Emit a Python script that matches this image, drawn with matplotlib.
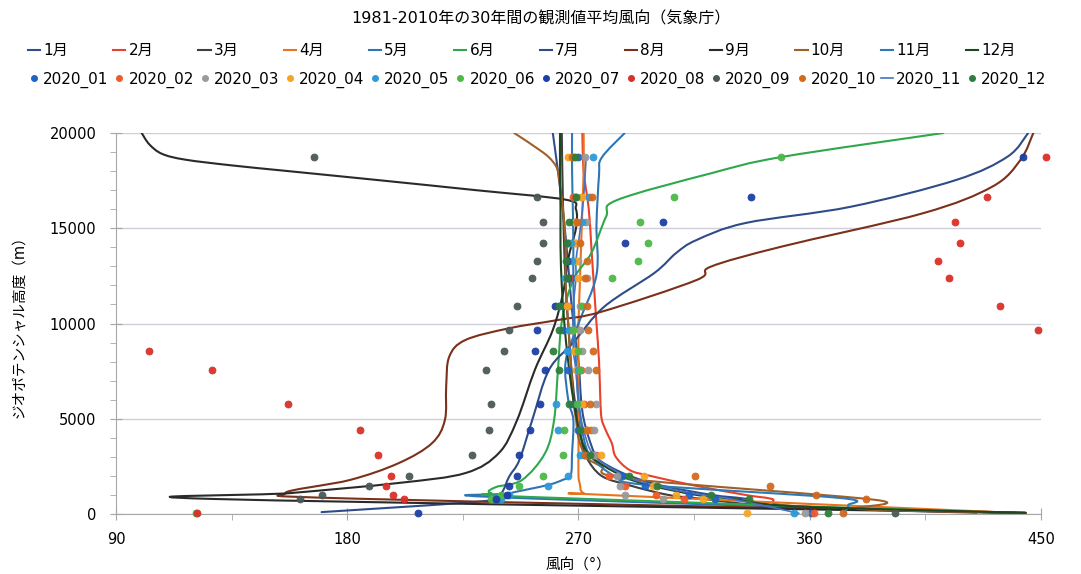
import numpy as np
import matplotlib
matplotlib.use("Agg")
import matplotlib.pyplot as plt
from matplotlib.lines import Line2D
from matplotlib.path import Path
from matplotlib.patches import PathPatch
from matplotlib.ticker import MultipleLocator

plt.rcParams['font.family'] = ['DejaVu Sans', 'Noto Sans CJK JP']

# ---- 1981-2010 monthly mean wind direction (deg) vs geopotential height (m)
jan_h = [60, 400, 800, 1000, 1500, 2000, 2500, 3000, 4000, 5000, 6000, 8000, 10000, 13000, 15200, 18000, 20000]
jan_d = [444, 352, 335, 322, 302, 290, 282, 277, 274, 272, 271, 270, 268, 266, 264.5, 262, 260]
feb_h = [60, 400, 800, 1000, 1500, 2000, 2300, 3000, 3700, 4400, 5000, 6000, 8000, 10000, 12000, 14000, 16000, 18000, 20000]
feb_d = [444, 356, 345, 335, 315, 298, 290, 284.5, 283, 280.6, 279, 278.5, 278, 277, 276, 275, 274, 272, 271.5]
mar_h = [60, 400, 800, 1000, 1500, 2000, 3000, 4000, 5000, 6000, 8000, 10000, 12000, 16000, 20000]
mar_d = [440, 350, 318, 305, 290, 279, 273, 271, 270, 268.5, 267, 266, 265, 264, 263.5]
apr_h = [60, 1000, 1100, 1600, 2000, 3000, 4000, 6000, 8000, 10000, 12000, 14000, 16000, 18000, 20000]
apr_d = [440, 281, 272, 270.5, 270, 270, 270, 270, 270, 270, 270.5, 271, 271.5, 272, 272]
may_h = [60, 880, 1085, 1520, 1800, 2050, 3200, 4935, 6000, 8000, 10000, 12550, 15200, 17800, 18700, 20000]
may_d = [425, 239, 243, 258, 264, 267, 267.5, 268, 266, 265, 270, 277, 277, 278, 279, 288]
jun_h = [60, 890, 1100, 1420, 1785, 3200, 4935, 7560, 10180, 12300, 13700, 15600, 16480, 17900, 18740, 20000]
jun_d = [436, 252, 236, 238, 248, 257, 260.5, 262, 263.6, 268, 275, 280.7, 285, 322, 349, 412]
jul_h = [100, 700, 1100, 1960, 2835, 4935, 7560, 9000, 10880, 12650, 13700, 14385, 15275, 16130, 17535, 18760, 20000]
jul_d = [170, 235, 240, 243, 247, 252, 258.5, 268, 280, 299.5, 308, 316, 335, 376, 417, 437, 445]
aug_h = [60, 800, 1100, 1785, 2670, 3720, 4935, 6685, 8260, 9135, 9750, 10185, 10620, 12285, 12985, 14035, 15785, 17180, 18585, 20000]
aug_d = [440, 185, 156, 181, 200, 213, 218, 218.5, 219.7, 226, 243, 262, 279, 316, 321.5, 349, 404, 431, 442, 447]
sep_h = [60, 790, 1100, 1630, 2150, 3200, 4900, 7560, 9660, 11600, 13400, 15000, 16000, 16500, 17000, 17500,
         18000, 18300, 18600, 18900, 19400, 20000]
sep_d = [444, 128, 158, 200, 226, 239, 246, 253, 260, 264, 266, 269, 269, 265, 230, 194,
         157, 135, 117, 108, 103, 100]
oct_h = [60, 260, 735, 1840, 2500, 3000, 4000, 5000, 6000, 8000, 10000, 12000, 14000, 16000, 17000, 18000, 18500, 19000, 20000]
oct_d = [444, 380, 386, 290, 279, 273, 270, 269, 268, 267, 266, 265, 265, 264, 263, 262, 260, 256, 245]
nov_h = [60, 170, 470, 840, 1520, 2000, 3000, 4000, 6000, 8000, 10000, 12000, 14000, 16000, 18000, 20000]
nov_d = [374, 374, 375, 372, 297, 284, 275, 272, 270, 269, 268.5, 268, 268, 267.8, 267.5, 267.5]
dec_h = [60, 400, 800, 1000, 1500, 2000, 3000, 4000, 6000, 8000, 10000, 12000, 14000, 16000, 18000, 20000]
dec_d = [444, 355, 330, 316, 298, 287, 275, 271, 268, 266, 264.5, 263.5, 263, 263, 262.8, 262.8]

month_labels = ['1月', '2月', '3月', '4月', '5月', '6月', '7月', '8月', '9月', '10月', '11月', '12月']
month_colors = ['#2F4F8F', '#E8412C', '#3F3F3F', '#E8741F', '#2E75B6', '#2EA84A',
                '#2E4C87', '#7A3019', '#2A2A2A', '#A0602A', '#2E7AB5', '#1E4620']

# ---- 2020 observations on pressure-level heights (m)
lv = [30, 780, 1000, 1480, 2000, 3100, 4420, 5800, 7550, 8550, 9650, 10920, 12400, 13300, 14250, 15350, 16650, 18750]
d2020_01 = [360.5, 323, 313, 296, 287, 272, 270, 268, 266, 266, 264, 264, 267, 266, 266, 268, 268.5, 270]
d2020_02 = [361.7, 311, 300, 288, 282, 277, 275, 272, 271, 269, 267, 266, 266.3, 268, 267.5, 269, 267.8, 268]
d2020_03 = [358, 303, 288, 286, 285, 276, 276, 276.7, 273.8, 271.5, 270.4, 270.5, 273.4, 270, 269, 272.8, 271, 272.7]
d2020_04 = [335.5, 318.5, 308, 299, 295.5, 278.6, 273.4, 271.5, 269, 268.2, 267.8, 265.7, 270, 269, 268.6, 268.6, 271.4, 266]
d2020_05 = [353.7, 240, 243, 258, 266, 270.6, 262.1, 261.1, 270, 265.7, 266.3, 262.4, 264.8, 267.3, 267, 271.5, 274, 275.8]
d2020_06 = [121, 236, 240, 247, 256, 264, 264.4, 269.5, 270.7, 270, 268, 271.4, 283, 293, 297, 294, 307, 349]
d2020_07 = [207.7, 238, 242, 243, 246, 247, 251, 255, 257, 253, 254, 261, 266, 265.6, 288, 303, 337, 443]
d2020_08 = [121.5, 202, 198, 195, 197, 192, 185, 156.8, 127.3, 103, 449, 434, 414, 409.8, 418.5, 416.6, 429, 452]
d2020_09 = [393, 161.5, 170, 188.5, 204, 228.5, 235, 236, 234, 241, 243, 246, 252, 254, 256, 256, 254, 167]
d2020_10 = [373, 382, 362.5, 344.5, 315.5, 272.5, 273.4, 274.5, 276.7, 275.6, 273.8, 273.4, 272.5, 273.4, 270.6, 269.5, 275.4, 267.5]
d2020_11 = [356, 330, 318, 300, 288, 276, 272, 270, 269, 268, 268, 268, 269, 269, 270, 271, 272, 273]
d2020_12 = [367, 336.5, 321.5, 300.5, 289.6, 274.5, 270.6, 266.3, 262.4, 260.2, 262.4, 262.4, 265.4, 265.3, 265.7, 266.3, 269, 268.5]

obs_labels = ['2020_01', '2020_02', '2020_03', '2020_04', '2020_05', '2020_06',
              '2020_07', '2020_08', '2020_09', '2020_10', '2020_11', '2020_12']
obs_colors = ['#1F63C6', '#EE5A2C', '#9A9A9A', '#F5A524', '#2C9BDA', '#4DB848',
              '#1C3FA6', '#D93028', '#4B5857', '#D2691E', '#4472C4', '#2F7D3B']

clim = [(jan_d, jan_h), (feb_d, feb_h), (mar_d, mar_h), (apr_d, apr_h), (may_d, may_h), (jun_d, jun_h),
        (jul_d, jul_h), (aug_d, aug_h), (sep_d, sep_h), (oct_d, oct_h), (nov_d, nov_h), (dec_d, dec_h)]
obs = [d2020_01, d2020_02, d2020_03, d2020_04, d2020_05, d2020_06,
       d2020_07, d2020_08, d2020_09, d2020_10, d2020_11, d2020_12]


def smooth_line(ax, xs, ys, **kw):
    # excel-like smoothed line: bezier segments through every point (catmull-rom tangents)
    p = np.column_stack([xs, ys]).astype(float)
    n = len(p)
    verts = [p[0]]
    codes = [Path.MOVETO]
    for i in range(n - 1):
        p0 = p[i - 1] if i > 0 else p[i]
        p3 = p[i + 2] if i + 2 < n else p[i + 1]
        c1 = p[i] + (p[i + 1] - p0) / 6.0
        c2 = p[i + 1] - (p3 - p[i]) / 6.0
        verts += [c1, c2, p[i + 1]]
        codes += [Path.CURVE4] * 3
    ax.add_patch(PathPatch(Path(verts, codes), fill=False, **kw))


fig = plt.figure(figsize=(10.81, 5.74), dpi=100)
ax = fig.add_axes([0.1073, 0.1045, 0.8557, 0.6638])

for (d, h), c in zip(clim, month_colors):
    smooth_line(ax, d, h, edgecolor=c, lw=1.5, zorder=3, capstyle='round', joinstyle='round')

for i, (d, c) in enumerate(zip(obs, obs_colors)):
    if obs_labels[i] == '2020_11':
        smooth_line(ax, d, lv, edgecolor=c, lw=1.2, zorder=3)
    else:
        ax.plot(d, lv, 'o', color=c, ms=5, mec=c, mew=0.6, alpha=0.95, zorder=4, clip_on=False)

ax.set_xlim(90, 450)
ax.set_ylim(0, 20000)
ax.xaxis.set_major_locator(MultipleLocator(90))
ax.xaxis.set_minor_locator(MultipleLocator(45))
ax.yaxis.set_major_locator(MultipleLocator(5000))
ax.yaxis.set_minor_locator(MultipleLocator(1000))
ax.grid(axis='y', which='major', color='#CFCFDC', lw=1.0)
ax.set_axisbelow(True)
for s in ['top', 'right']:
    ax.spines[s].set_visible(False)
for s in ['left', 'bottom']:
    ax.spines[s].set_color('#A6A6A6')
ax.tick_params(which='major', direction='inout', length=8, color='#A6A6A6', labelsize=10.5)
ax.tick_params(axis='x', which='major', pad=9)
ax.tick_params(axis='y', which='major', pad=10)
ax.tick_params(which='minor', direction='out', length=4, color='#A6A6A6')

ax.set_xlabel('風向（°）', fontsize=10.5, labelpad=7)
ax.set_ylabel('ジオポテンシャル高度（m）', fontsize=10.5, labelpad=17)
fig.suptitle('1981-2010年の30年間の観測値平均風向（気象庁）', fontsize=11.5, y=0.98)

handles, labels = [], []
for i in range(12):
    handles.append(Line2D([], [], color=month_colors[i], lw=1.5))
    labels.append(month_labels[i])
    if obs_labels[i] == '2020_11':
        handles.append(Line2D([], [], color=obs_colors[i], lw=1.2))
    else:
        handles.append(Line2D([], [], ls='none', marker='o', ms=4, color=obs_colors[i]))
    labels.append(obs_labels[i])
fig.legend(handles, labels, ncol=12, loc='upper center', bbox_to_anchor=(0.497, 0.935),
           frameon=False, fontsize=11, handlelength=0.8, handletextpad=0.2,
           columnspacing=0.3, labelspacing=0.85, borderaxespad=0)

fig.savefig('out.png', dpi=100)
